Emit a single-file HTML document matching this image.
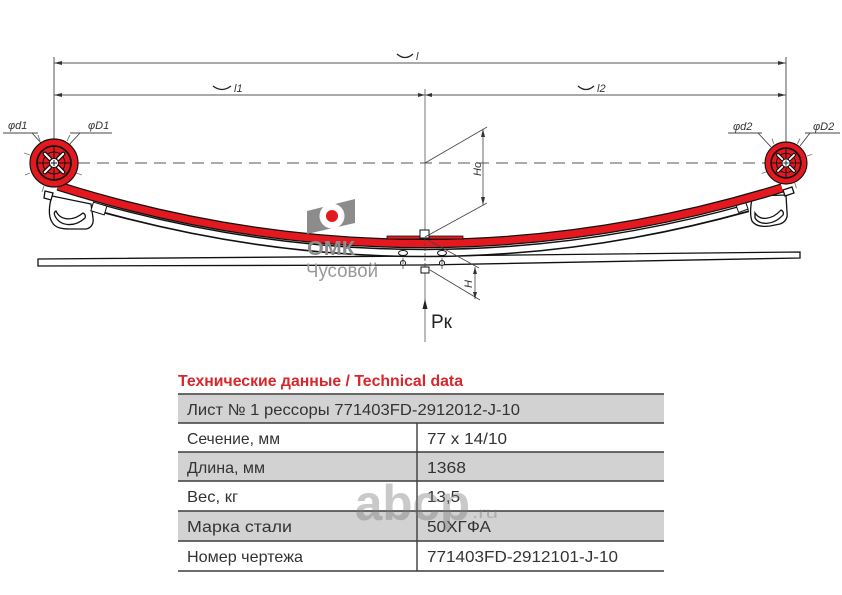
<!DOCTYPE html>
<html><head><meta charset="utf-8">
<style>
html,body{margin:0;padding:0;background:#fff;}
svg{display:block;}
text{font-family:"Liberation Sans","DejaVu Sans",sans-serif;}
</style></head><body>
<svg width="842" height="595" viewBox="0 0 842 595" xmlns="http://www.w3.org/2000/svg">
<rect width="842" height="595" fill="#fff"/>

<!-- dimension lines -->
<g stroke="#555" stroke-width="1" fill="none">
  <line x1="54" y1="63" x2="786" y2="63"/>
  <line x1="54" y1="95" x2="786" y2="95"/>
  <line x1="54" y1="57" x2="54" y2="163"/>
  <line x1="786" y1="57" x2="786" y2="163"/>
  <line x1="425" y1="89" x2="425" y2="342" stroke="#777"/>
  <line x1="78" y1="163" x2="766" y2="163" stroke-dasharray="12,7"/>
</g>
<g fill="#333">
  <polygon points="54,63 62,61 62,65"/>
  <polygon points="786,63 778,61 778,65"/>
  <polygon points="54,95 62,93 62,97"/>
  <polygon points="786,95 778,93 778,97"/>
  <polygon points="425,95 418,93 418,97"/>
  <polygon points="425,95 432,93 432,97"/>
</g>
<!-- arc labels -->
<g stroke="#222" stroke-width="1.3" fill="none">
  <path d="M397,54 Q405,61 413,54"/>
  <path d="M213,86 Q222,93 231,86"/>
  <path d="M578,86 Q586,93 594,86"/>
</g>
<g fill="#333" font-size="11" font-style="italic">
  <text x="416" y="60">l</text>
  <text x="234" y="92">l1</text>
  <text x="597" y="92">l2</text>
</g>

<!-- eye leaders -->
<g stroke="#444" stroke-width="0.9">
  <line x1="3" y1="133" x2="38" y2="133"/>
  <line x1="32" y1="133" x2="42" y2="144"/>
  <line x1="70" y1="133" x2="112" y2="133"/>
  <line x1="80" y1="133" x2="69" y2="145"/>
  <line x1="728" y1="133" x2="762" y2="133"/>
  <line x1="758" y1="133" x2="771" y2="147"/>
  <line x1="805" y1="133" x2="840" y2="133"/>
  <line x1="810" y1="133" x2="800" y2="146"/>
</g>
<g fill="#333" font-size="11" font-style="italic">
  <text x="8" y="129">φd1</text>
  <text x="88" y="129">φD1</text>
  <text x="733" y="130">φd2</text>
  <text x="813" y="130">φD2</text>
</g>

<!-- clips -->
<g fill="#fff" stroke="#111" stroke-width="1.3">
  <path d="M52,196 C49,205 48,216 52,222 C55,228 62,229 70,229 L86,229 C91,228 94,224 93,218 L91,204 Z"/>
  <path d="M56,211 C60,220 72,222 83,213 C85,214 86,216 85,218 C74,228 60,226 55,216 C54,214 54,212 56,211 Z"/>
  <polygon points="45,191 53,193 51,200 44,198"/>
  <path d="M753,196 C750,205 750,216 752,221 C755,226 762,227 770,226 L780,224 C785,222 788,218 787,212 L786,195 Z"/>
  <path d="M755,213 C760,221 772,220 781,210 C783,211 784,213 783,215 C774,225 760,226 755,218 Z"/>
  <polygon points="783,190 792,187 794,193 785,196"/>
</g>

<!-- flat bottom leaf -->
<polygon points="38,259 425,256 800,252 800,258 425,265 38,266" fill="#fff" stroke="#111" stroke-width="1.3"/>

<!-- second leaf -->
<path d="M100,208 Q425,298 748,208" fill="none" stroke="#111" stroke-width="8.5"/>
<path d="M101,208 Q425,298 747,208" fill="none" stroke="#fff" stroke-width="5.5"/>
<rect x="92" y="204" width="14" height="9" fill="#fff" stroke="#111" stroke-width="1" transform="rotate(17 99 208)"/>
<rect x="737" y="203" width="10" height="8" fill="#fff" stroke="#111" stroke-width="1" transform="rotate(-20 742 207)"/>

<!-- red main leaf -->
<path d="M58,186 Q420,300 782,188" fill="none" stroke="#111" stroke-width="9.5"/>
<path d="M58,186 Q420,300 782,188" fill="none" stroke="#e3191f" stroke-width="7"/>
<rect x="387" y="236" width="76" height="3" fill="#e3191f" stroke="#111" stroke-width="0.8"/>

<!-- eyes -->
<g transform="translate(54,163)">
  <g stroke="#777" stroke-width="0.9">
    <line x1="-14" y1="-22" x2="-16" y2="-28" />
    <line x1="13" y1="-22" x2="16" y2="-28" />
    <line x1="-24" y1="-8" x2="-30" y2="-10" />
    <line x1="22" y1="10" x2="28" y2="12" />
    <line x1="-10" y1="23" x2="-12" y2="29" />
    <line x1="-24" y1="10" x2="-29" y2="12" />
  </g>
  <circle r="24" fill="#e3191f" stroke="#111" stroke-width="1.2"/>
  <circle r="17" fill="none" stroke="#111" stroke-width="1.8"/>
  <circle r="11" fill="none" stroke="#111" stroke-width="1"/>
  <g stroke="#111" stroke-width="1">
    <line x1="5" y1="0" x2="17" y2="0"/>
    <line x1="-5" y1="0" x2="-17" y2="0"/>
    <line x1="0" y1="5" x2="0" y2="17"/>
    <line x1="0" y1="-5" x2="0" y2="-17"/>
  </g>
  <g stroke-linecap="round">
    <g transform="rotate(45)"><line x1="6" x2="13" stroke="#111" stroke-width="4.5"/><line x1="6" x2="13" stroke="#fff" stroke-width="2"/></g>
    <g transform="rotate(135)"><line x1="6" x2="13" stroke="#111" stroke-width="4.5"/><line x1="6" x2="13" stroke="#fff" stroke-width="2"/></g>
    <g transform="rotate(225)"><line x1="6" x2="13" stroke="#111" stroke-width="4.5"/><line x1="6" x2="13" stroke="#fff" stroke-width="2"/></g>
    <g transform="rotate(315)"><line x1="6" x2="13" stroke="#111" stroke-width="4.5"/><line x1="6" x2="13" stroke="#fff" stroke-width="2"/></g>
  </g>
  <circle r="4.5" fill="#fff" stroke="#111" stroke-width="1"/>
  <line x1="-3" y1="0" x2="3" y2="0" stroke="#111" stroke-width="1"/>
  <line x1="0" y1="-3" x2="0" y2="3" stroke="#111" stroke-width="1"/>
</g>
<g transform="translate(786,163) scale(0.875)">
  <g stroke="#777" stroke-width="1">
    <line x1="-14" y1="-22" x2="-16" y2="-28" />
    <line x1="13" y1="-22" x2="16" y2="-28" />
    <line x1="24" y1="-8" x2="30" y2="-10" />
    <line x1="-22" y1="10" x2="-28" y2="12" />
    <line x1="10" y1="23" x2="12" y2="29" />
  </g>
  <circle r="24" fill="#e3191f" stroke="#111" stroke-width="1.3"/>
  <circle r="17" fill="none" stroke="#111" stroke-width="1.9"/>
  <circle r="11" fill="none" stroke="#111" stroke-width="1.1"/>
  <g stroke="#111" stroke-width="1.1">
    <line x1="5" y1="0" x2="17" y2="0"/>
    <line x1="-5" y1="0" x2="-17" y2="0"/>
    <line x1="0" y1="5" x2="0" y2="17"/>
    <line x1="0" y1="-5" x2="0" y2="-17"/>
  </g>
  <g stroke-linecap="round">
    <g transform="rotate(45)"><line x1="6" x2="13" stroke="#111" stroke-width="4.5"/><line x1="6" x2="13" stroke="#fff" stroke-width="2"/></g>
    <g transform="rotate(135)"><line x1="6" x2="13" stroke="#111" stroke-width="4.5"/><line x1="6" x2="13" stroke="#fff" stroke-width="2"/></g>
    <g transform="rotate(225)"><line x1="6" x2="13" stroke="#111" stroke-width="4.5"/><line x1="6" x2="13" stroke="#fff" stroke-width="2"/></g>
    <g transform="rotate(315)"><line x1="6" x2="13" stroke="#111" stroke-width="4.5"/><line x1="6" x2="13" stroke="#fff" stroke-width="2"/></g>
  </g>
  <circle r="4.5" fill="#fff" stroke="#111" stroke-width="1"/>
  <line x1="-3" y1="0" x2="3" y2="0" stroke="#111" stroke-width="1"/>
  <line x1="0" y1="-3" x2="0" y2="3" stroke="#111" stroke-width="1"/>
</g>

<!-- center bolt and nuts -->
<g fill="#fff" stroke="#111" stroke-width="1">
  <rect x="420" y="230" width="9" height="8"/>
  <rect x="421" y="267" width="8" height="6"/>
  <ellipse cx="403" cy="253" rx="4.5" ry="2.5"/>
  <ellipse cx="442" cy="253" rx="4.5" ry="2.5"/>
  <circle cx="403" cy="263" r="2.5"/>
  <circle cx="442" cy="263" r="2.5"/>
</g>
<g stroke="#444" stroke-width="0.8">
  <line x1="403" y1="258" x2="403" y2="269"/>
  <line x1="442" y1="258" x2="442" y2="269"/>
  <line x1="425" y1="238" x2="425" y2="267" stroke-dasharray="3,2"/>
</g>

<!-- logo -->
<polygon points="307,211 355,199 355,223 307,234" fill="#8c8c8c"/>
<circle cx="332" cy="216" r="12.5" fill="#fff"/>
<circle cx="332" cy="216" r="6" fill="#e3191f"/>
<text x="307" y="255" font-size="20" font-weight="bold" fill="#8c8c8c" textLength="48" lengthAdjust="spacingAndGlyphs">ОМК</text>
<text x="306" y="277" font-size="19" fill="#999" textLength="72" lengthAdjust="spacingAndGlyphs">Чусовой</text>

<!-- Ho / H dimensions -->
<g stroke="#444" stroke-width="0.8">
  <line x1="425" y1="163" x2="487" y2="127"/>
  <line x1="425" y1="237" x2="487" y2="203"/>
  <line x1="483" y1="129" x2="483" y2="205"/>
  <line x1="428" y1="240" x2="479" y2="268"/>
  <line x1="430" y1="270" x2="480" y2="300"/>
  <line x1="475" y1="267" x2="475" y2="299"/>
</g>
<g fill="#333">
  <polygon points="483,129 481,137 485,137"/>
  <polygon points="483,205 481,197 485,197"/>
  <polygon points="475,267 473,274 477,274"/>
  <polygon points="475,299 473,292 477,292"/>
</g>
<text transform="translate(481,176) rotate(-90)" font-size="11" font-style="italic" fill="#333">Hо</text>
<text transform="translate(472,288) rotate(-90)" font-size="11" font-style="italic" fill="#333">H</text>

<!-- Pk arrow -->
<polygon points="425,299 422.5,309 427.5,309" fill="#222"/>
<text x="431" y="328" font-size="19" fill="#222">Pк</text>

<!-- table -->
<text x="178" y="386" font-size="16" font-weight="bold" fill="#d8262b" textLength="285" lengthAdjust="spacingAndGlyphs">Технические данные / Technical data</text>
<rect x="178" y="394" width="486" height="29" fill="#d2d2d2"/>
<rect x="178" y="452" width="486" height="29" fill="#d2d2d2"/>
<rect x="178" y="511" width="486" height="30" fill="#d2d2d2"/>
<g stroke="#3c3c3c" stroke-width="1.4">
  <line x1="178" y1="394" x2="664" y2="394"/>
  <line x1="178" y1="423" x2="664" y2="423"/>
  <line x1="178" y1="452" x2="664" y2="452"/>
  <line x1="178" y1="481" x2="664" y2="481"/>
  <line x1="178" y1="511" x2="664" y2="511"/>
  <line x1="178" y1="541" x2="664" y2="541"/>
  <line x1="178" y1="571" x2="664" y2="571"/>
  <line x1="417" y1="423" x2="417" y2="571"/>
</g>
<g font-size="16" fill="#333">
  <text x="187" y="415" textLength="333" lengthAdjust="spacingAndGlyphs">Лист № 1 рессоры 771403FD-2912012-J-10</text>
  <text x="187" y="444" textLength="93" lengthAdjust="spacingAndGlyphs">Сечение, мм</text>
  <text x="187" y="473" textLength="78" lengthAdjust="spacingAndGlyphs">Длина, мм</text>
  <text x="187" y="502" textLength="51" lengthAdjust="spacingAndGlyphs">Вес, кг</text>
  <text x="187" y="532" textLength="105" lengthAdjust="spacingAndGlyphs">Марка стали</text>
  <text x="187" y="562" textLength="116" lengthAdjust="spacingAndGlyphs">Номер чертежа</text>
  <text x="427" y="444" textLength="80" lengthAdjust="spacingAndGlyphs">77 x 14/10</text>
  <text x="427" y="473" textLength="39" lengthAdjust="spacingAndGlyphs">1368</text>
  <text x="427" y="502" textLength="33" lengthAdjust="spacingAndGlyphs">13,5</text>
  <text x="427" y="532" textLength="64" lengthAdjust="spacingAndGlyphs">50ХГФА</text>
  <text x="427" y="562" textLength="191" lengthAdjust="spacingAndGlyphs">771403FD-2912101-J-10</text>
</g>

<!-- watermark -->
<text x="355" y="520" font-size="50" font-weight="bold" fill="#777" fill-opacity="0.4" textLength="115" lengthAdjust="spacingAndGlyphs">abcp</text>
<text x="472" y="518" font-size="16" fill="#777" fill-opacity="0.4" textLength="26" lengthAdjust="spacingAndGlyphs">.ru</text>
</svg>
</body></html>
